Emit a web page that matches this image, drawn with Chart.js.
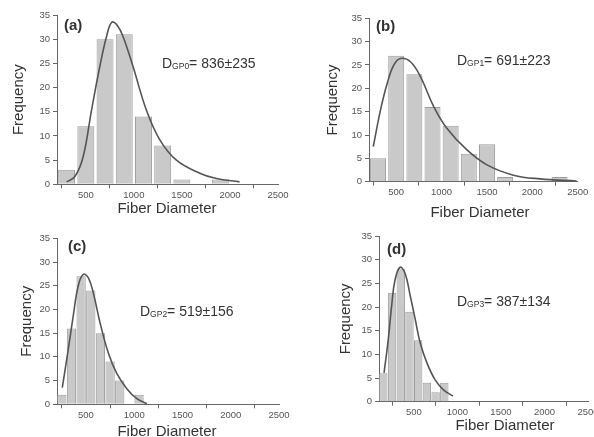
<!DOCTYPE html>
<html><head><meta charset="utf-8">
<script src="https://cdn.jsdelivr.net/npm/chart.js@4.4.0/dist/chart.umd.min.js"></script>
<style>
html,body{margin:0;padding:0;background:#fff;overflow:hidden;width:594px;height:437px;position:relative}
canvas{position:absolute}
</style></head><body>
<canvas id="ca" width="300" height="222" style="left:0;top:0"></canvas>
<canvas id="cb" width="294" height="222" style="left:300px;top:0"></canvas>
<canvas id="cc" width="300" height="217" style="left:0;top:220px"></canvas>
<canvas id="cd" width="310" height="217" style="left:300px;top:220px"></canvas>
<script>
// ---- data ----
const xTickValues = [500, 1000, 1500, 2000, 2500];
const yMax = 35, yStep = 5;

const binsA   = [300, 500, 700, 900, 1100, 1300, 1500, 1700, 1900];
const countsA = [3, 12, 30, 31, 14, 8, 1, 0, 1];
const curveXA = [300, 386, 472, 559, 645, 715, 770, 830, 888, 992, 1131, 1270, 1443, 1685, 1859, 2100];
const curveYA = [0.5, 1.6, 5.7, 15.3, 24.3, 30.5, 33.5, 32.8, 30.5, 24.3, 15.3, 9.2, 5.0, 2.3, 1.2, 0.5];

const binsB   = [300, 500, 700, 900, 1100, 1300, 1500, 1700, 1900, 2100, 2300];
const countsB = [5, 27, 23, 16, 12, 6, 8, 1, 0, 0, 1];
const curveXB = [247, 327, 401, 474, 547, 657, 767, 913, 1060, 1280, 1500, 1792, 2085, 2488];
const curveYB = [7.5, 15.4, 21.1, 25.0, 26.4, 25.7, 22.5, 16.1, 11.4, 6.8, 3.6, 1.4, 0.6, 0.15];

const binsC   = [250, 350, 450, 550, 650, 750, 850, 950, 1050];
const countsC = [2, 16, 27, 24, 15, 9, 5, 0, 2];
const curveXC = [255, 316, 368, 420, 472, 524, 576, 646, 732, 819, 923, 1027, 1131];
const curveYC = [3.5, 11.5, 18.6, 25.0, 27.4, 26.7, 23.5, 17.2, 10.8, 6.5, 3.3, 1.2, 0.15];

const binsD   = [150, 250, 350, 450, 550, 650, 750, 850];
const countsD = [6, 23, 28, 19, 13, 4, 2, 4];
const curveXD = [158, 207, 246, 284, 342, 400, 457, 515, 572, 650, 745, 841, 949];
const curveYD = [6.1, 13.2, 20.4, 25.7, 28.4, 27.1, 22.5, 17.5, 12.5, 8.2, 4.6, 2.5, 1.2];

const panelLabels = ['(a)', '(b)', '(c)', '(d)'];
const subLabels   = ['GP0', 'GP1', 'GP2', 'GP3'];
const meanTexts   = ['= 836±235', '= 691±223', '= 519±156', '= 387±134'];
const xMins       = [200, 200, 200, 100];
const xTitle = 'Fiber Diameter';
const yTitle = 'Frequency';

// ---- drawing ----
const FONT = '"Liberation Sans", Arial, sans-serif';
const textPlugin = {
  id: 'panelText',
  afterDraw(chart, args, o) {
    const ctx = chart.ctx;
    ctx.save();
    ctx.fillStyle = '#333';
    ctx.textBaseline = 'middle';
    ctx.textAlign = 'left';
    ctx.font = 'bold 15px ' + FONT;
    ctx.fillText(o.label, o.lx, o.ly);
    let x = o.tx;
    ctx.font = '14px ' + FONT;
    ctx.fillText('D', x, o.ty);
    x += ctx.measureText('D').width;
    ctx.font = '8.5px ' + FONT;
    ctx.fillText(o.sub, x, o.ty + 3);
    x += ctx.measureText(o.sub).width;
    ctx.font = '14px ' + FONT;
    ctx.fillText(o.value, x, o.ty);
    ctx.textAlign = 'center';
    ctx.font = '15px ' + FONT;
    ctx.fillText(o.xTitle, o.xx, o.xy);
    ctx.restore();
  }
};

function makeChart(id, i, bins, counts, cx, cy, g, barPct) {
  new Chart(document.getElementById(id), {
    type: 'bar',
    data: {
      datasets: [
        {
          type: 'line',
          data: cx.map((v, k) => ({x: v, y: cy[k]})),
          borderColor: '#555',
          borderWidth: 1.6,
          pointRadius: 0,
          fill: false,
          tension: 0.4,
          order: 0
        },
        {
          type: 'bar',
          data: bins.map((v, k) => ({x: v, y: counts[k]})),
          backgroundColor: '#c9c9c9',
          borderColor: '#9c9c9c',
          borderWidth: 1,
          barPercentage: barPct,
          categoryPercentage: 1,
          order: 1
        }
      ]
    },
    options: {
      responsive: false,
      animation: false,
      events: [],
      layout: {padding: {top: g.top, right: g.right, left: 0, bottom: 0}},
      plugins: {
        legend: {display: false},
        tooltip: {enabled: false},
        panelText: {
          label: panelLabels[i], lx: g.lx, ly: g.ly,
          sub: subLabels[i], value: meanTexts[i], tx: g.tx, ty: g.ty,
          xTitle: xTitle, xx: g.xx, xy: g.xy
        }
      },
      scales: {
        x: {
          type: 'linear',
          offset: false,
          min: xMins[i], max: 2500,
          afterBuildTicks: s => { s.ticks = xTickValues.map(v => ({value: v})); },
          afterFit: s => { s.height = g.xh; },
          grid: {display: true, drawOnChartArea: false, drawTicks: true, tickLength: 4, color: '#666'},
          border: {display: true, color: '#666', width: 1},
          ticks: {color: '#555', font: {family: FONT, size: 9.5}, padding: 1, maxRotation: 0, autoSkip: false,
                  callback: v => String(v)},
          title: {display: false}
        },
        y: {
          min: 0, max: yMax,
          afterFit: s => { s.width = g.yw; },
          grid: {display: true, drawOnChartArea: false, drawTicks: true, tickLength: 4, color: '#666'},
          border: {display: true, color: '#666', width: 1},
          ticks: {stepSize: yStep, color: '#555', font: {family: FONT, size: 9.5}, padding: 3,
                  callback: v => String(v)},
          title: {display: true, text: yTitle, color: '#333', font: {family: FONT, size: 15}, padding: {top: g.yp, bottom: 0}}
        }
      }
    },
    plugins: [textPlugin]
  });
}

makeChart('ca', 0, binsA, countsA, curveXA, curveYA,
  {top: 15, right: 22, yw: 57, xh: 37.7, yp: 10, lx: 64, ly: 26, tx: 162, ty: 64, xx: 167, xy: 209}, 0.88);
makeChart('cb', 1, binsB, countsB, curveXB, curveYB,
  {top: 18.3, right: 16.3, yw: 69, xh: 40.3, yp: 24, lx: 76, ly: 27, tx: 157, ty: 61, xx: 180, xy: 212.5}, 0.88);
makeChart('cc', 2, binsC, countsC, curveXC, curveYC,
  {top: 18.3, right: 21, yw: 57, xh: 32.7, yp: 18, lx: 68, ly: 26.5, tx: 140, ty: 92, xx: 167, xy: 212}, 0.96);
makeChart('cd', 3, binsD, countsD, curveXD, curveYD,
  {top: 16, right: 22, yw: 79, xh: 35.3, yp: 37, lx: 87, ly: 29.5, tx: 157, ty: 82, xx: 205, xy: 206}, 0.96);
</script>
</body></html>
